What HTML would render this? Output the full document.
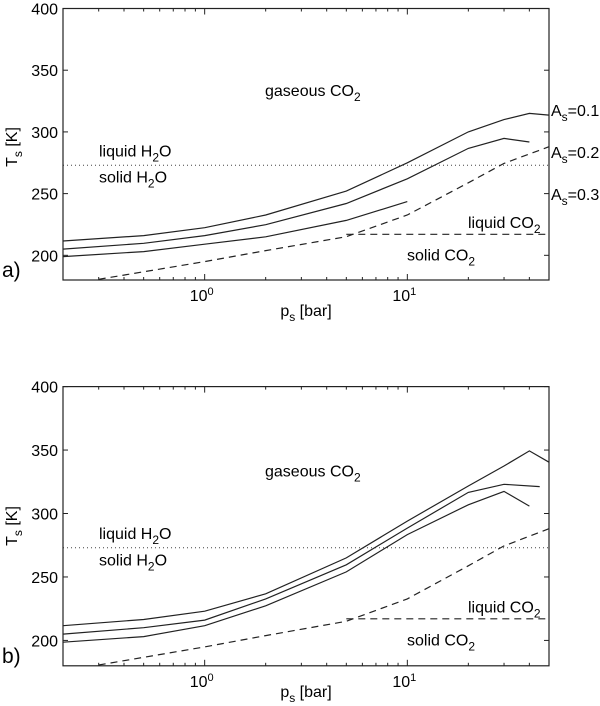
<!DOCTYPE html>
<html><head><meta charset="utf-8"><style>
body{margin:0;background:#fff}
svg{display:block;font-family:"Liberation Sans",Arial,sans-serif}
</style></head><body>
<svg id="c" width="600" height="706" viewBox="0 0 600 706" xmlns="http://www.w3.org/2000/svg"></svg>
<script>
const pressures=[0.2,0.5,1,2,5,10,20,30,40,50];
const aT01=[211.6,216,222.4,232.7,252,275,300,310,315,313.6];
const aT02=[205,209.7,216,224.8,242,262,286.6,294.7,291.8];
const aT03=[199,203,209,215,228.3,243.5];
const bT01=[211.6,216.5,223,236.7,265,294,321.7,337.4,349.3,340.4];
const bP02=[0.2,0.5,1,2,5,10,20,30,45];
const bT02=[205,210,216,232.7,259.6,288.5,316.6,323,321.2];
const bT03=[198.6,203,211.6,227.3,254,283.4,306.9,317.4,305.8];
const subP=[0.3,1,2,5,10,20,30,50];
const subT=[180.6,194.9,203.8,215.1,232.7,258.8,274.5,288];
const tripleP=[5,50];
const tripleT=[217,217];
const waterT=273;
const yTicks=[200,250,300,350,400];
const albedoLabels=["0.1","0.2","0.3"];
const albedoLabelT=[317,283,249];

const NS="http://www.w3.org/2000/svg";
const svg=document.getElementById('c');
function mk(t,a,p){const e=document.createElementNS(NS,t);for(const k in a)e.setAttribute(k,a[k]);(p||svg).appendChild(e);return e;}
const X0=63,X1=549;
function sx(p){return X0+(Math.log10(p)-Math.log10(0.2))/(Math.log10(50)-Math.log10(0.2))*(X1-X0);}

function panel(top,bot,series,letter,name,titleY,xTitleY){
  const g=mk('g',{});
  
  
  const sy=T=>bot-(T-180)/(220)*(bot-top);
  const line=(P,T,extra,nm)=>{const d=P.slice(0,T.length).map((p,i)=>(i?'L':'M')+sx(p).toFixed(1)+','+sy(T[i]).toFixed(1)).join('');
    const e=mk('path',Object.assign({d:d,fill:'none',stroke:'#222','stroke-width':1.2},extra),g);
    
    return e;};
  yTicks.forEach(t=>{const y=sy(t);
    mk('line',{x1:X0,x2:X0+5,y1:y,y2:y,stroke:'#222'},g);mk('line',{x1:X1,x2:X1-5,y1:y,y2:y,stroke:'#222'},g);
    const tx=mk('text',{x:X0-5,y:y+6,'text-anchor':'end','font-size':16},g);tx.textContent=t;
    
    });
  for(let dec=-1;dec<=1;dec++)for(let m=1;m<10;m++){const p=m*Math.pow(10,dec);if(p<0.2||p>50)continue;
    const x=sx(p),L=(m==1)?6:3;
    mk('line',{x1:x,x2:x,y1:bot,y2:bot-L,stroke:'#222'},g);mk('line',{x1:x,x2:x,y1:top,y2:top+L,stroke:'#222'},g);}
  [[1,'0'],[10,'1']].forEach(([p,e])=>{const t=mk('text',{x:sx(p)-3,y:bot+21,'text-anchor':'middle','font-size':16},g);
    t.innerHTML='10<tspan dy="-6" font-size="11">'+e+'</tspan>';
    
    });
  mk('line',{x1:X0,x2:X1,y1:sy(waterT),y2:sy(waterT),stroke:'#444','stroke-dasharray':'1,3'},g);
  line(subP,subT,{'stroke-dasharray':'7,5'},'co2-sublimation-curve');
  line(tripleP,tripleT,{'stroke-dasharray':'7,5'},'co2-melting-line');
  series.forEach(s=>line(s[0],s[1],{},s[2]));
  mk('rect',{x:X0,y:top,width:X1-X0,height:bot-top,fill:'none',stroke:'#222','stroke-width':1.2},g);
  const txt=(x,y,html,anchor,nm,fs)=>{const t=mk('text',{x:x,y:y,'font-size':fs||16,'text-anchor':anchor||'start'},g);t.innerHTML=html;
    
    return t;};
  const sub=s=>'<tspan dy="5" font-size="12">'+s+'</tspan>';
  txt(265,sy(333)+5,'gaseous CO'+sub('2'),'start','gaseous-co2-label');
  txt(99,sy(284)+5,'liquid H'+sub('2')+'<tspan dy="-5">O</tspan>','start','liquid-h2o-label');
  txt(99,sy(263)+5,'solid H'+sub('2')+'<tspan dy="-5">O</tspan>','start','solid-h2o-label');
  txt(468,sy(226)+5,'liquid CO'+sub('2'),'start','liquid-co2-label');
  txt(407,sy(200)+5,'solid CO'+sub('2'),'start','solid-co2-label');
  txt(0,0,'T'+sub('s')+'<tspan dy="-5"> [K]</tspan>','middle','y-axis-title').setAttribute('transform','translate(17 '+titleY+') rotate(-90)');
  txt(306,xTitleY,'p'+sub('s')+'<tspan dy="-5"> [bar]</tspan>','middle','x-axis-title');
  txt(2,bot-3,letter,'start','panel-label',21);
  return {sy,txt,sub};
}
const A=panel(8.5,280,[[pressures,aT01,'curve-as-0.1'],[pressures,aT02,'curve-as-0.2'],[pressures,aT03,'curve-as-0.3']],'a)','panel-a',147,316);
albedoLabels.forEach((l,i)=>A.txt(551,A.sy(albedoLabelT[i])+5,'A'+A.sub('s')+'<tspan dy="-5">='+l+'</tspan>','start','albedo-label'));
panel(386.6,665.8,[[pressures,bT01,'curve-b-1'],[bP02,bT02,'curve-b-2'],[pressures,bT03,'curve-b-3']],'b)','panel-b',526,697);
</script>
</body></html>
